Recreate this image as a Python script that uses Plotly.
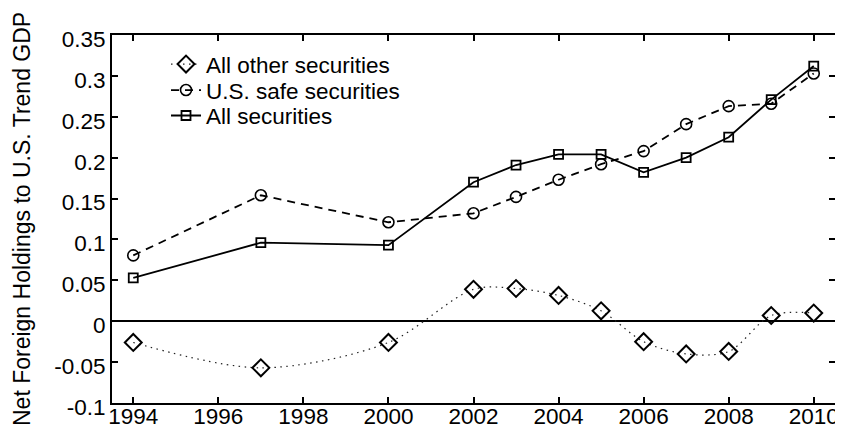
import plotly.graph_objects as go

years = [1994, 1997, 2000, 2002, 2003, 2004, 2005, 2006, 2007, 2008, 2009, 2010]
all_other = [-0.026, -0.057, -0.026, 0.039, 0.040, 0.0315, 0.0127, -0.025, -0.040, -0.037, 0.007, 0.010]
us_safe = [0.0805, 0.154, 0.121, 0.132, 0.152, 0.173, 0.192, 0.208, 0.241, 0.263, 0.266, 0.303]
all_sec = [0.053, 0.096, 0.093, 0.170, 0.191, 0.204, 0.204, 0.182, 0.200, 0.225, 0.271, 0.312]

x_ticks = [1994, 1996, 1998, 2000, 2002, 2004, 2006, 2008, 2010]
y_ticks = [-0.1, -0.05, 0, 0.05, 0.1, 0.15, 0.2, 0.25, 0.3, 0.35]
y_tick_labels = ["-0.1", "-0.05", "0", "0.05", "0.1", "0.15", "0.2", "0.25", "0.3", "0.35"]
y_title = "Net Foreign Holdings to U.S. Trend GDP"

FONT = "Liberation Sans, Arial, sans-serif"
FS = 22.5

fig = go.Figure()
fig.add_trace(go.Scatter(
    x=years, y=all_other, name="All other securities", mode="lines+markers",
    line=dict(color="#222222", width=1.2, dash="1.5px,4.5px", shape="spline", smoothing=0.9),
    marker=dict(symbol="diamond-open", size=13, color="black", line=dict(width=2)),
    legend="legend",
))
fig.add_trace(go.Scatter(
    x=years, y=us_safe, name="U.S. safe securities", mode="lines+markers",
    line=dict(color="black", width=1.8, dash="8px,6px"),
    marker=dict(symbol="circle-open", size=11, color="black", line=dict(width=1.6)),
    legend="legend2",
))
fig.add_trace(go.Scatter(
    x=years, y=all_sec, name="All securities", mode="lines+markers",
    line=dict(color="black", width=1.8),
    marker=dict(symbol="square-open", size=9, color="black", line=dict(width=1.8)),
    legend="legend3",
))

leg_common = dict(x=0.0747, xanchor="left", yanchor="middle",
                  bgcolor="rgba(0,0,0,0)", font=dict(size=FS), itemwidth=30)

fig.update_layout(
    width=835, height=427,
    margin=dict(l=104, r=8, t=27, b=31.5),
    paper_bgcolor="white", plot_bgcolor="white",
    font=dict(family=FONT, size=FS, color="black"),
    showlegend=True,
    legend=dict(y=0.92, **leg_common),
    legend2=dict(y=0.8494, **leg_common),
    legend3=dict(y=0.7802, **leg_common),
    xaxis=dict(range=[1993.5, 2010.5], tickvals=x_ticks, showgrid=False,
               zeroline=False, showline=True, linecolor="black", linewidth=2,
               mirror="allticks", ticks="inside", ticklen=6, tickwidth=1.5,
               tickcolor="black", ticklabelstandoff=-8, automargin=False,
               ticklabeloverflow="allow"),
    yaxis=dict(range=[-0.1, 0.35], tickvals=y_ticks, ticktext=y_tick_labels,
               showgrid=False, zeroline=True, zerolinecolor="black", zerolinewidth=2,
               showline=True, linecolor="black", linewidth=2,
               mirror="allticks", ticks="inside", ticklen=6, tickwidth=1.5,
               tickcolor="black", ticklabelstandoff=0, ticklabelshift=4,
               automargin=False, ticklabeloverflow="allow"),
    annotations=[dict(text=y_title, xref="paper", yref="paper", x=0, y=0.5,
                      xanchor="center", yanchor="middle", xshift=-90,
                      textangle=-90, showarrow=False,
                      font=dict(size=23, family=FONT, color="black"))],
)

fig.write_html("out.html")
